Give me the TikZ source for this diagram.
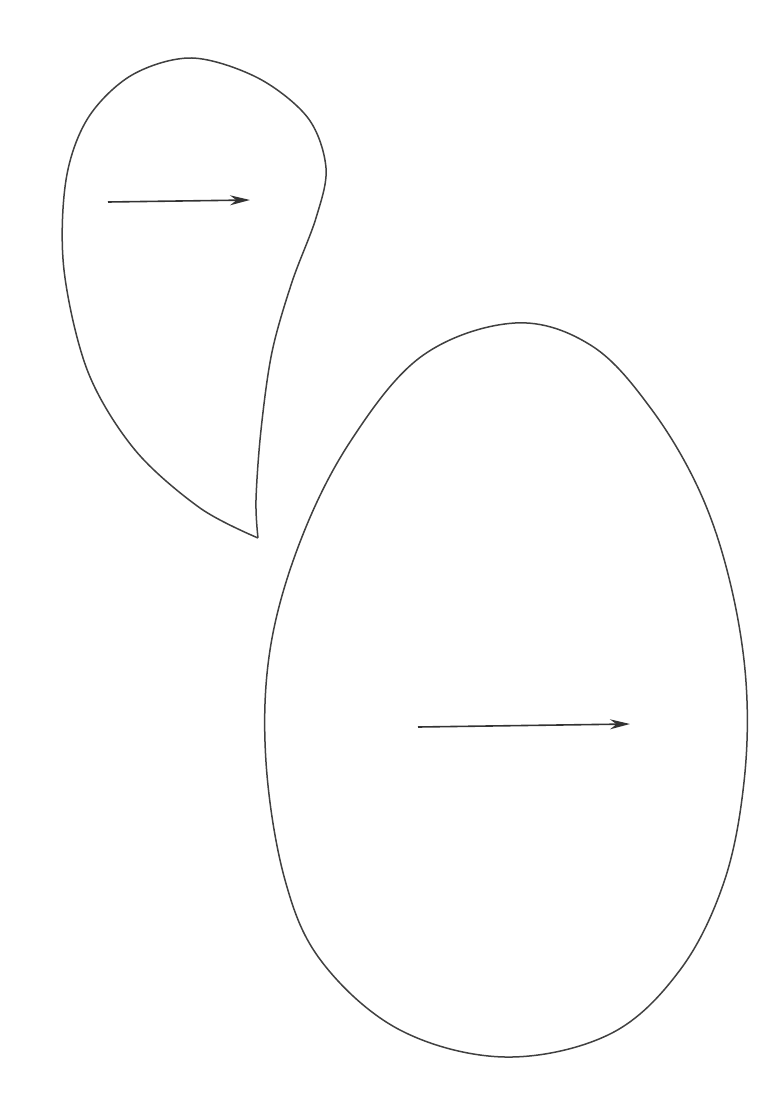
\documentclass[tikz,border=0pt]{standalone}
\usepackage{tikz}
\usetikzlibrary{arrows.meta}

\begin{document}
\begin{tikzpicture}[x=1pt,y=-1pt,
    outline/.style={draw=black!75,line width=1.5pt},
    flow/.style={draw=black!80,line width=1.6pt,-{Stealth[length=20pt,width=10pt]}}]
\useasboundingbox (0,0) rectangle (782,1113);
% teardrop
\draw[outline] plot[smooth,tension=0.55] coordinates {
  (258,538) (200,508) (135,450) (88,372) (64,270) (66,180) (88,118)
  (132,75) (192,58) (258,78) (308,118) (326,168) (316,218) (292,282)
  (272,352) (261,430) (256,500) (258,538)};
% egg
\draw[outline] plot[smooth cycle,tension=0.6] coordinates {
  (515,323) (592,346) (652,410) (700,492) (730,582) (746,682) (744,782)
  (724,882) (680,970) (610,1034) (505,1057) (400,1030) (322,962)
  (285,880) (266,762) (270,650) (300,542) (350,442) (422,356)};
% arrows
\coordinate (a1) at (108,202);
\coordinate (b1) at (250,200);
\coordinate (a2) at (418,727);
\coordinate (b2) at (630,724);
\draw[flow] (a1) -- (b1);
\draw[flow] (a2) -- (b2);
\end{tikzpicture}
\end{document}
